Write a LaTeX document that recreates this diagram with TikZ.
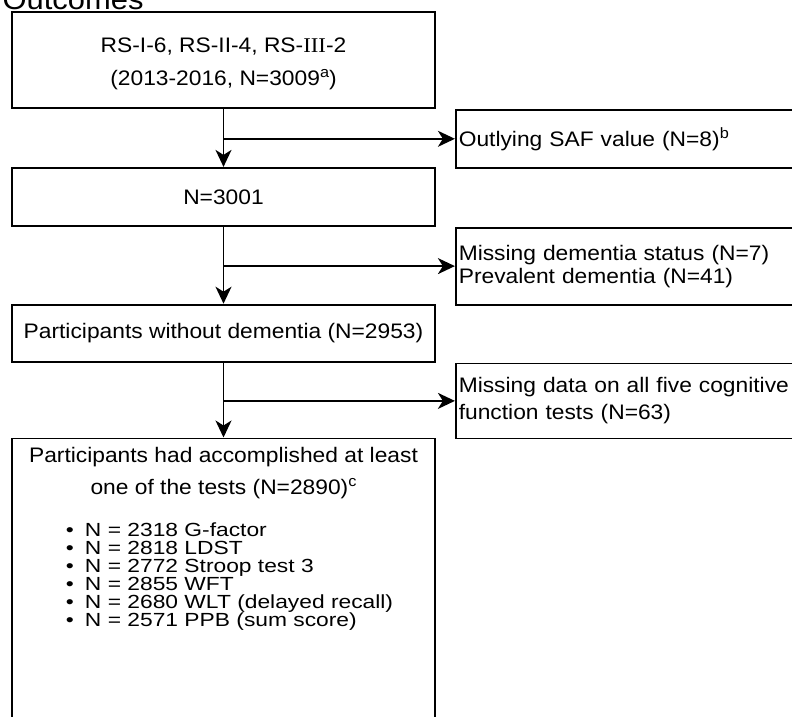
\documentclass[tikz,border=0pt]{standalone}
\usepackage{fontspec}
\setmainfont{Liberation Sans}[FakeStretch=1.085]
\newfontfamily\numeralfont{Liberation Serif}[FakeStretch=1.085]
\newfontfamily\listfont{Liberation Sans}[FakeStretch=1.2]
\usetikzlibrary{arrows.meta,positioning}
\newcommand\noteref[1]{\raisebox{8pt}{\fontsize{15pt}{15pt}\selectfont #1}}

\begin{document}
\begin{tikzpicture}[
    font=\fontsize{21pt}{23pt}\selectfont,
    box/.style={rectangle, draw, line width=1.8pt, minimum width=423pt, inner sep=0pt},
    side/.style={rectangle, draw, line width=1.8pt, text width=340pt, inner xsep=3pt, inner ysep=0pt, align=left},
    flow/.style={line width=1.8pt, -{Stealth[length=17pt, width=16pt, inset=5pt]}}
]
\useasboundingbox (0,0) rectangle (792pt,-717pt);
\clip (0,0) rectangle (792pt,-717pt);

% Inclusion chain
\node[box, minimum height=96pt, align=center, font=\fontsize{21pt}{33pt}\selectfont] (cohort) at (223.5pt,-60pt)
    {\rule{0pt}{22pt}RS-I-6, RS-II-4, RS-{\numeralfont III}-2\\(2013-2016, N=3009\noteref{a})};
\node[box, minimum height=58pt, below=58pt of cohort] (valid) {N=3001};
\node[box, minimum height=57pt, below=77pt of valid] (nodementia) {Participants without dementia (N=2953)};
\node[box, below=75pt of nodementia] (tests) {%
  \begin{minipage}[t][307pt][t]{423pt}
  \centering\fontsize{21pt}{32pt}\selectfont
  \rule{0pt}{24pt}Participants had accomplished at least\\
  one of the tests (N=2890)\noteref{c}\par
  \vspace{24pt}
  {\raggedright\leftskip=54pt\relax\lineskiplimit=-100pt\relax\listfont\fontsize{19pt}{18pt}\selectfont
  \makebox[19pt][l]{\textbullet}N = 2318 G-factor\\
  \makebox[19pt][l]{\textbullet}N = 2818 LDST\\
  \makebox[19pt][l]{\textbullet}N = 2772 Stroop test 3\\
  \makebox[19pt][l]{\textbullet}N = 2855 WFT\\
  \makebox[19pt][l]{\textbullet}N = 2680 WLT (delayed recall)\\
  \makebox[19pt][l]{\textbullet}N = 2571 PPB (sum score)\par}
  \end{minipage}};

\node[anchor=base west, font=\fontsize{28.5pt}{32pt}\selectfont] (heading) at ([xshift=-12pt, yshift=1.5pt]cohort.north west) {Outcomes};

% Exclusions
\node[side, minimum height=58pt, below right=0pt and 19pt of cohort] (outlier) {Outlying SAF value (N=8)\noteref{b}};
\node[side, minimum height=77pt, below right=0pt and 19pt of valid, font=\fontsize{21pt}{23pt}\selectfont] (dementia)
    {Missing dementia status (N=7)\\Prevalent dementia (N=41)};
\node[side, minimum height=75pt, below right=0pt and 19pt of nodementia, font=\fontsize{21pt}{27pt}\selectfont] (missing)
    {Missing data on all five cognitive\\function tests (N=63)};

% Arrows
\draw[flow] (cohort.south) -- (valid.north);
\draw[flow] (cohort.south |- outlier.west) -- (outlier.west);
\draw[flow] (valid.south) -- (nodementia.north);
\draw[flow] (valid.south |- dementia.west) -- (dementia.west);
\draw[flow] (nodementia.south) -- (tests.north);
\draw[flow] (nodementia.south |- missing.west) -- (missing.west);
\end{tikzpicture}
\end{document}
